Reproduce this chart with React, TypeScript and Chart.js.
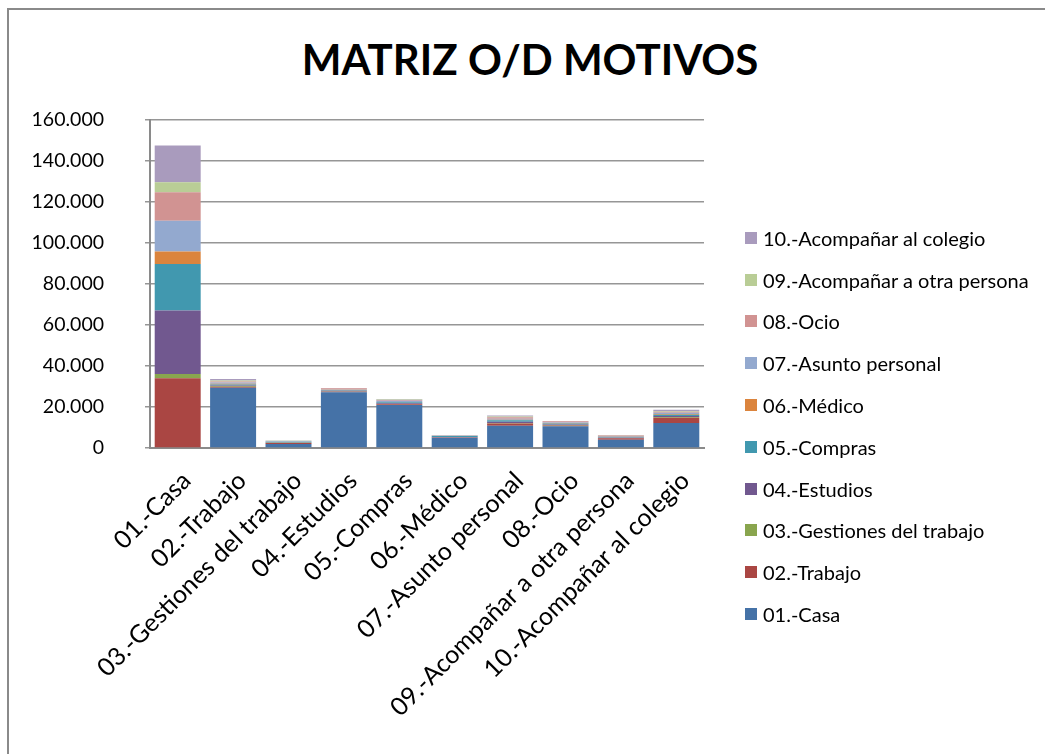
import React, { useEffect, useRef } from "react";
import { Chart, registerables } from "chart.js";

Chart.register(...registerables);

const categories = [
  "01.-Casa",
  "02.-Trabajo",
  "03.-Gestiones del trabajo",
  "04.-Estudios",
  "05.-Compras",
  "06.-Médico",
  "07.-Asunto personal",
  "08.-Ocio",
  "09.-Acompañar a otra persona",
  "10.-Acompañar al colegio",
];

const seriesNames = [...categories];

const casa = [0, 29400, 2000, 27200, 21000, 5000, 10900, 10600, 4000, 12200];
const trabajo = [34000, 500, 400, 300, 400, 200, 1000, 400, 700, 2600];
const gestiones = [2100, 300, 200, 100, 100, 100, 300, 200, 100, 300];
const estudios = [31000, 300, 100, 300, 300, 100, 600, 300, 200, 500];
const compras = [22600, 500, 300, 300, 500, 400, 700, 500, 300, 600];
const medico = [6200, 300, 100, 200, 200, 100, 300, 200, 200, 400];
const asunto = [15000, 600, 200, 300, 500, 100, 500, 300, 300, 600];
const ocio = [13800, 500, 100, 400, 400, 100, 700, 500, 300, 500];
const otraPersona = [4900, 500, 100, 100, 200, 100, 400, 100, 100, 400];
const colegio = [18000, 800, 100, 100, 300, 100, 400, 100, 100, 600];

const seriesValues = [casa, trabajo, gestiones, estudios, compras, medico, asunto, ocio, otraPersona, colegio];

const colors = [
  "#4572A7",
  "#AA4643",
  "#89A54E",
  "#71588F",
  "#4198AF",
  "#DB843D",
  "#93A9CF",
  "#D19392",
  "#B9CD96",
  "#A99BBD",
];

const yTicks = [0, 20000, 40000, 60000, 80000, 100000, 120000, 140000, 160000];

const FONT = "Lato, 'Open Sans', sans-serif";

function fmt(n: number): string {
  return Math.round(n).toString().replace(/\B(?=(\d{3})+(?!\d))/g, ".");
}

export default function App() {
  const ref = useRef<HTMLCanvasElement | null>(null);

  useEffect(() => {
    if (!ref.current) return;
    const chart = new Chart(ref.current, {
      type: "bar",
      data: {
        labels: categories,
        datasets: seriesValues.map((vals, i) => ({
          label: seriesNames[i],
          data: vals,
          backgroundColor: colors[i],
          borderWidth: 0,
          barPercentage: 0.83,
          categoryPercentage: 1,
        })),
      },
      options: {
        responsive: false,
        animation: false,
        layout: { padding: { top: 110, right: 341, bottom: 0, left: 0 } },
        plugins: {
          legend: { display: false },
          title: { display: false },
          tooltip: { enabled: false },
        },
        scales: {
          x: {
            stacked: true,
            grid: { display: false, drawTicks: false },
            border: { display: true, color: "#8a8a8a", width: 2 },
            ticks: {
              autoSkip: false,
              minRotation: 45,
              maxRotation: 45,
              color: "#000",
              padding: 18,
              labelOffset: 9,
              font: { family: FONT, size: 25 },
            },
            afterFit: (scale: any) => {
              scale.height = 306;
            },
          },
          y: {
            stacked: true,
            min: 0,
            max: 160000,
            afterBuildTicks: (scale: any) => {
              scale.ticks = yTicks.map((v) => ({ value: v }));
            },
            grid: { color: "#969696", lineWidth: 1.5, tickLength: 5 },
            border: { display: true, color: "#8a8a8a", width: 2 },
            ticks: {
              color: "#000",
              padding: 41,
              font: { family: FONT, size: 19.5 },
              callback: (v: any) => fmt(Number(v)),
            },
            afterFit: (scale: any) => {
              scale.width = 141;
            },
          },
        },
      } as any,
    });
    return () => chart.destroy();
  }, []);

  const legendItems = seriesNames.map((n, i) => ({ n, c: colors[i] })).reverse();

  return (
    <div
      style={{
        position: "fixed",
        left: 7,
        top: 8,
        width: 1100,
        height: 800,
        border: "2px solid #8a8a8a",
        boxSizing: "border-box",
        background: "#fff",
        overflow: "hidden",
      }}
    >
      <div
        style={{
          position: "absolute",
          left: 0,
          top: 27,
          width: 1042,
          textAlign: "center",
          fontFamily: FONT,
          fontWeight: 700,
          fontSize: 42,
          lineHeight: "44px",
          color: "#000",
        }}
      >
        MATRIZ O/D MOTIVOS
      </div>
      <canvas ref={ref} width={1036} height={744} style={{ position: "absolute", left: 0, top: 0 }} />
      <div style={{ position: "absolute", left: 736, top: 207, fontFamily: FONT, fontSize: 20, color: "#000" }}>
        {legendItems.map((it) => (
          <div key={it.n} style={{ display: "flex", alignItems: "center", height: 41.8, whiteSpace: "nowrap" }}>
            <span style={{ display: "inline-block", width: 12, height: 12, background: it.c, marginRight: 6 }} />
            <span>{it.n}</span>
          </div>
        ))}
      </div>
    </div>
  );
}
